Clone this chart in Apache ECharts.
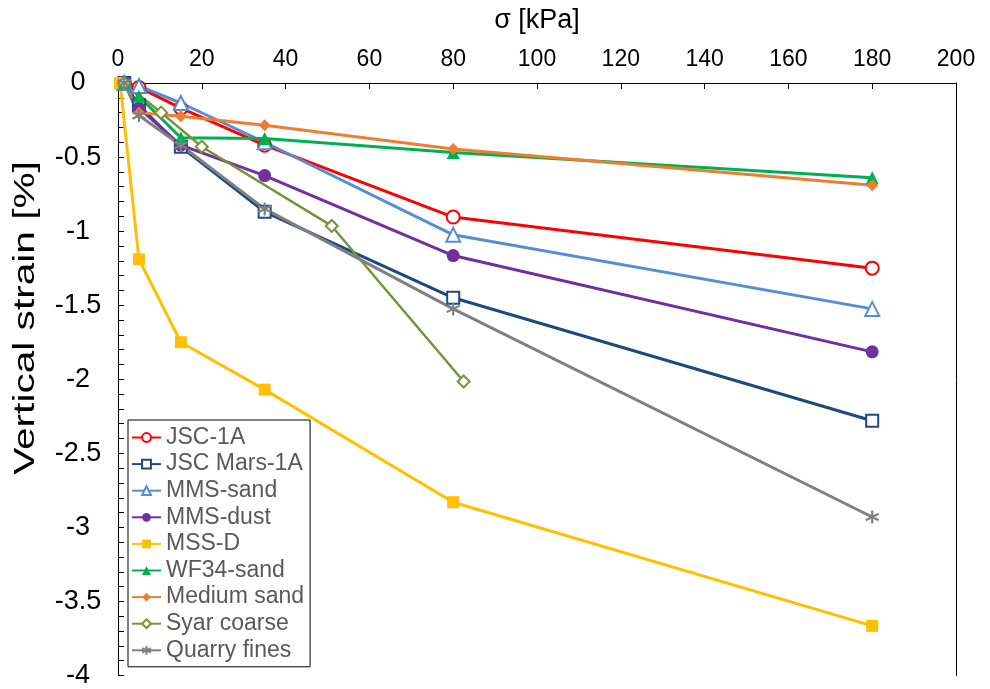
<!DOCTYPE html>
<html>
<head>
<meta charset="utf-8">
<script src="https://cdn.jsdelivr.net/npm/echarts@6/dist/echarts.min.js"></script>
<style>
  html, body { margin: 0; padding: 0; background: #fff; }
  #chart { width: 990px; height: 689px; }
</style>
</head>
<body>
<div id="chart"></div>
<script>
// Applied vertical stress [kPa] for the standard load steps
const stressSteps = [1.5, 5, 15, 35, 80, 180];
const stressStepsMSS = [0.5, 5, 15, 35, 80, 180];
const stressStepsSyar = [1.5, 10.3, 20, 51, 82.5];

// Vertical strain [%] at each load step
const jsc1a      = [0, -0.03, -0.17, -0.42, -0.905, -1.25];
const jscMars1a  = [0, -0.15, -0.43, -0.87, -1.45, -2.28];
const mmsSand    = [0, -0.02, -0.135, -0.40, -1.025, -1.525];
const mmsDust    = [0, -0.17, -0.42, -0.625, -1.165, -1.815];
const mssD       = [0, -1.19, -1.75, -2.07, -2.83, -3.665];
const wf34Sand   = [0, -0.09, -0.37, -0.375, -0.47, -0.64];
const mediumSand = [0, -0.20, -0.225, -0.285, -0.445, -0.69];
const syarCoarse = [0, -0.20, -0.43, -0.965, -2.015];
const quarryFines= [0, -0.22, -0.42, -0.85, -1.525, -2.93];

const xTicks = [0, 20, 40, 60, 80, 100, 120, 140, 160, 180, 200];
const yTicks = [0, -0.5, -1, -1.5, -2, -2.5, -3, -3.5, -4];

const FONT = 'Liberation Sans, Arial, sans-serif';
const pairs = (xs, ys) => ys.map((y, i) => [xs[i], y]);
const asterisk = 'path://M5,0L5,10M0.67,2.5L9.33,7.5M9.33,2.5L0.67,7.5';

function lineSeries(name, xs, ys, color, symbol, size, opts) {
  opts = opts || {};
  return {
    name: name,
    type: 'line',
    data: pairs(xs, ys),
    symbol: symbol,
    symbolSize: size,
    showAllSymbol: true,
    lineStyle: { color: color, width: opts.width || 3 },
    itemStyle: opts.stroke
      ? { color: 'rgba(0,0,0,0)', borderColor: color, borderWidth: 2.2 }
      : { color: color, borderColor: color, borderWidth: opts.hollow ? 2 : 0 },
    emphasis: { disabled: true },
    z: 3
  };
}

const series = [
  lineSeries('JSC-1A', stressSteps, jsc1a, '#FF0000', 'emptyCircle', 13, { hollow: true }),
  lineSeries('JSC Mars-1A', stressSteps, jscMars1a, '#1F497D', 'emptyRect', 12, { hollow: true }),
  lineSeries('MMS-sand', stressSteps, mmsSand, '#558ED5', 'emptyTriangle', 14, { hollow: true }),
  lineSeries('MMS-dust', stressSteps, mmsDust, '#7030A0', 'circle', 13),
  lineSeries('MSS-D', stressStepsMSS, mssD, '#FFC000', 'rect', 12),
  lineSeries('WF34-sand', stressSteps, wf34Sand, '#00B050', 'triangle', 13),
  lineSeries('Medium sand', stressSteps, mediumSand, '#ED7D31', 'diamond', 12),
  lineSeries('Syar coarse', stressStepsSyar, syarCoarse, '#77933C', 'emptyDiamond', 12, { hollow: true, width: 2.5 }),
  lineSeries('Quarry fines', stressSteps, quarryFines, '#808080', asterisk, 13, { stroke: true })
];

const chart = echarts.init(document.getElementById('chart'), null, { renderer: 'canvas' });
chart.setOption({
  animation: false,
  backgroundColor: '#fff',
  textStyle: { fontFamily: FONT },
  grid: { left: 118, right: 34, top: 83, bottom: 13, containLabel: false },
  title: {
    text: 'σ [kPa]',
    left: 532, top: 2, textAlign: 'center',
    textStyle: { fontSize: 27, fontWeight: 'normal', color: '#000', fontFamily: FONT }
  },
  graphic: [{
    type: 'text',
    x: 26, y: 318,
    rotation: Math.PI / 2,
    scaleX: 1.4,
    style: {
      text: 'Vertical strain [%]',
      font: '29px ' + FONT,
      fill: '#000',
      align: 'center',
      verticalAlign: 'middle'
    }
  }],
  xAxis: {
    type: 'value',
    position: 'top',
    min: 0, max: 200, interval: 20,
    axisLine: { show: true, lineStyle: { color: '#000', width: 1 } },
    axisTick: { show: true, inside: true, length: 6, lineStyle: { color: '#000' } },
    axisLabel: {
      color: '#000', fontSize: 23, margin: 12,
      alignMinLabel: 'center', alignMaxLabel: 'center',
      showMinLabel: true, showMaxLabel: true,
      formatter: v => xTicks.includes(v) ? String(v) : ''
    },
    splitLine: { show: false }
  },
  yAxis: [{
    type: 'value',
    min: -4, max: 0, interval: 0.5,
    axisLine: { show: true, onZero: false, lineStyle: { color: '#000', width: 1 } },
    axisTick: { show: true, inside: true, length: 6, lineStyle: { color: '#000' } },
    minorTick: { show: true, splitNumber: 5, length: 6, lineStyle: { color: '#000' } },
    axisLabel: {
      color: '#000', fontSize: 27, margin: 40, align: 'center',
      alignMinLabel: 'center', alignMaxLabel: 'center',
      showMinLabel: true, showMaxLabel: true,
      formatter: v => yTicks.includes(v) ? String(v) : ''
    },
    splitLine: { show: false }
  }, {
    type: 'value',
    position: 'right',
    min: -4, max: 0,
    axisLine: { show: true, onZero: false, lineStyle: { color: '#000', width: 1 } },
    axisTick: { show: false },
    axisLabel: { show: false },
    splitLine: { show: false }
  }],
  legend: {
    orient: 'vertical',
    left: 128, top: 420,
    padding: [6, 6, 5, 3],
    itemWidth: 29, itemHeight: 11, itemGap: 3.6,
    backgroundColor: '#fff',
    borderColor: '#000', borderWidth: 1,
    textStyle: { fontSize: 23, lineHeight: 23, color: '#595959', fontFamily: FONT },
    data: series.map(s => s.name)
  },
  series: series
});
</script>
</body>
</html>
